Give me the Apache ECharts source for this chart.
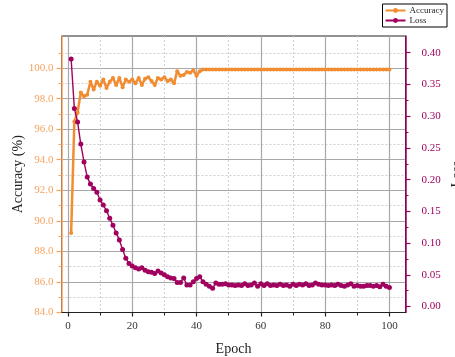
<!DOCTYPE html>
<html><head><meta charset="utf-8">
<script src="https://cdn.jsdelivr.net/npm/echarts@6/dist/echarts.min.js"></script>
<style>html,body{margin:0;padding:0;background:#fff}#c{width:455px;height:357px}</style>
</head><body><div id="c"></div>
<script>
const epochs = Array.from({length: 100}, (_, i) => i + 1);
const accuracy = [89.2,96.5,97.1,98.4,98.15,98.26,99.1,98.6,99.1,98.85,
99.25,98.7,99.1,99.35,98.9,99.35,98.75,99.25,99.1,99.25,
99.0,99.35,98.9,99.3,99.4,99.15,98.9,99.35,99.25,99.4,
99.15,99.25,99.0,99.8,99.5,99.55,99.75,99.7,99.85,99.5,
99.8,99.9,99.9,99.9,99.9,99.9,99.9,99.9,99.9,99.9,
99.9,99.9,99.9,99.9,99.9,99.9,99.9,99.9,99.9,99.9,
99.9,99.9,99.9,99.9,99.9,99.9,99.9,99.9,99.9,99.9,
99.9,99.9,99.9,99.9,99.9,99.9,99.9,99.9,99.9,99.9,
99.9,99.9,99.9,99.9,99.9,99.9,99.9,99.9,99.9,99.9,
99.9,99.9,99.9,99.9,99.9,99.9,99.9,99.9,99.9,99.9];
const loss = [0.390,0.312,0.291,0.256,0.228,0.204,0.193,0.186,0.180,0.168,
0.160,0.151,0.139,0.128,0.116,0.105,0.090,0.076,0.068,0.064,
0.061,0.059,0.061,0.057,0.055,0.054,0.052,0.056,0.053,0.050,
0.047,0.045,0.044,0.038,0.038,0.045,0.034,0.034,0.039,0.044,
0.047,0.039,0.035,0.032,0.029,0.037,0.035,0.035,0.036,0.034,
0.034,0.033,0.034,0.033,0.036,0.033,0.034,0.037,0.032,0.036,
0.033,0.036,0.033,0.034,0.033,0.035,0.033,0.034,0.032,0.035,
0.033,0.035,0.034,0.036,0.033,0.034,0.037,0.035,0.034,0.034,
0.033,0.034,0.033,0.035,0.033,0.032,0.034,0.036,0.032,0.033,
0.032,0.032,0.033,0.033,0.032,0.033,0.031,0.035,0.032,0.030];
const xMajorTicks = [0,20,40,60,80,100];
const xMinorTicks = [10,30,50,70,90];
const accMajorTicks = [84,86,88,90,92,94,96,98,100];
const accMinorTicks = [85,87,89,91,93,95,97,99,101];
const lossMajorTicks = [0,0.05,0.10,0.15,0.20,0.25,0.30,0.35,0.40];
const lossMinorTicks = [0.025,0.075,0.125,0.175,0.225,0.275,0.325,0.375];

const ORANGE = '#F28C30', ORANGE_AX = '#F5A35E', PURPLE = '#A0005E';
const FONT = 'Liberation Serif';
const XMIN = -2, XMAX = 105, AMIN = 84, AMAX = 102.1, LMIN = -0.0094, LMAX = 0.4264;

const chart = echarts.init(document.getElementById('c'), null, {renderer: 'canvas'});
const majorSplit = {show: true, lineStyle: {color: '#a8a8a8', width: 1.2, type: 'solid'}};
const minorSplit = {show: true, lineStyle: {color: '#cfcfcf', width: 1, type: [2, 2]}};
chart.setOption({
  animation: false,
  grid: {left: 61.5, right: 49.5, top: 36, bottom: 44.5, show: true, borderColor: '#222', borderWidth: 1, containLabel: false, outerBoundsMode: 'none'},
  legend: {
    orient: 'vertical', right: 8, top: 4, itemWidth: 20, itemHeight: 6, itemGap: 1,
    padding: [2, 3, 2, 2], borderColor: '#000', borderWidth: 1, backgroundColor: '#fff',
    textStyle: {fontFamily: FONT, fontSize: 9, color: '#222', padding: [0, 0, 0, -1]},
    data: ['Accuracy', 'Loss']
  },
  xAxis: [{
    type: 'value', min: XMIN, max: XMAX, position: 'bottom',
    name: 'Epoch', nameLocation: 'middle', nameGap: 30, nameMoveOverlap: false,
    nameTextStyle: {fontFamily: FONT, fontSize: 14, color: '#222'},
    axisLine: {show: true, onZero: false, lineStyle: {color: '#222', width: 1.2}},
    axisTick: {show: true, length: 4, customValues: xMajorTicks, lineStyle: {color: '#222', width: 1.2}},
    axisLabel: {customValues: xMajorTicks, fontFamily: FONT, fontSize: 11, color: '#333', margin: 8},
    splitLine: majorSplit
  }, {
    type: 'value', min: XMIN, max: XMAX, position: 'bottom',
    axisLine: {show: false, onZero: false},
    axisTick: {show: true, length: 3, customValues: xMinorTicks, lineStyle: {color: '#222', width: 1}},
    axisLabel: {show: false},
    splitLine: minorSplit
  }],
  yAxis: [{
    type: 'value', min: AMIN, max: AMAX, position: 'left',
    name: 'Accuracy (%)', nameLocation: 'middle', nameGap: 36, nameRotate: 90, nameMoveOverlap: false,
    nameTextStyle: {fontFamily: FONT, fontSize: 14, color: '#222'},
    axisLine: {show: true, onZero: false, lineStyle: {color: ORANGE_AX, width: 1.5}},
    axisTick: {show: true, length: 5, customValues: accMajorTicks, lineStyle: {color: ORANGE_AX, width: 1.2}},
    axisLabel: {customValues: accMajorTicks, formatter: v => v.toFixed(1), fontFamily: FONT, fontSize: 11, color: ORANGE_AX, margin: 8},
    splitLine: majorSplit
  }, {
    type: 'value', min: AMIN, max: AMAX, position: 'left',
    axisLine: {show: false, onZero: false},
    axisTick: {show: true, length: 3, customValues: accMinorTicks, lineStyle: {color: ORANGE_AX, width: 1}},
    axisLabel: {show: false},
    splitLine: minorSplit
  }, {
    type: 'value', min: LMIN, max: LMAX, position: 'right',
    name: 'Loss', nameLocation: 'middle', nameGap: 45, nameRotate: 90, nameMoveOverlap: false,
    nameTextStyle: {fontFamily: FONT, fontSize: 14, color: '#222'},
    axisLine: {show: true, onZero: false, lineStyle: {color: PURPLE, width: 1.5}},
    axisTick: {show: true, length: 5, customValues: lossMajorTicks, lineStyle: {color: PURPLE, width: 1.2}},
    axisLabel: {customValues: lossMajorTicks, formatter: v => v.toFixed(2), fontFamily: FONT, fontSize: 11, color: PURPLE, margin: 16},
    splitLine: {show: false}
  }, {
    type: 'value', min: LMIN, max: LMAX, position: 'right',
    axisLine: {show: false, onZero: false},
    axisTick: {show: true, length: 3, customValues: lossMinorTicks, lineStyle: {color: PURPLE, width: 1}},
    axisLabel: {show: false},
    splitLine: {show: false}
  }],
  series: [{
    name: 'Accuracy', type: 'line', xAxisIndex: 0, yAxisIndex: 0,
    data: epochs.map((e, i) => [e, accuracy[i]]),
    symbol: 'circle', symbolSize: 4, showSymbol: true,
    lineStyle: {color: ORANGE, width: 2.5}, itemStyle: {color: ORANGE}, z: 3
  }, {
    name: 'Loss', type: 'line', xAxisIndex: 0, yAxisIndex: 2,
    data: epochs.map((e, i) => [e, loss[i]]),
    symbol: 'circle', symbolSize: 5, showSymbol: true,
    lineStyle: {color: PURPLE, width: 1.4}, itemStyle: {color: PURPLE}, z: 4
  }]
});
</script></body></html>
